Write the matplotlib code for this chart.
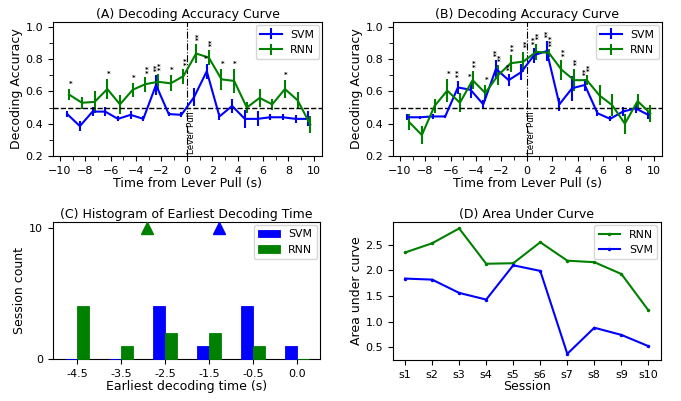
import matplotlib
matplotlib.use('Agg')
import matplotlib.pyplot as plt
from matplotlib.ticker import MultipleLocator
import numpy as np

# Time bins (s) relative to lever pull
times = [-9.35, -8.35, -7.35, -6.35, -5.35, -4.35, -3.35, -2.35, -1.35, -0.35,
         0.65, 1.65, 2.65, 3.65, 4.65, 5.65, 6.65, 7.65, 8.65, 9.65]

# (A) decoding accuracy
a_svm = [0.46, 0.385, 0.475, 0.475, 0.43, 0.455, 0.43, 0.64, 0.46, 0.455,
         0.565, 0.725, 0.445, 0.51, 0.43, 0.43, 0.44, 0.44, 0.43, 0.43]
a_svm_err = [0.02, 0.03, 0.03, 0.03, 0.015, 0.025, 0.015, 0.06, 0.015, 0.015,
             0.057, 0.046, 0.02, 0.046, 0.057, 0.046, 0.02, 0.02, 0.025, 0.046]
a_rnn = [0.58, 0.53, 0.535, 0.615, 0.52, 0.61, 0.645, 0.66, 0.65, 0.695,
         0.835, 0.81, 0.675, 0.665, 0.50, 0.56, 0.52, 0.615, 0.545, 0.395]
a_rnn_err = [0.036, 0.036, 0.07, 0.06, 0.057, 0.043, 0.046, 0.05, 0.05, 0.046,
             0.057, 0.046, 0.067, 0.077, 0.036, 0.057, 0.036, 0.057, 0.05, 0.05]
a_svm_stars = {7: 2, 11: 1}
a_rnn_stars = {0: 1, 3: 1, 5: 1, 6: 2, 7: 2, 8: 1, 9: 2, 10: 2, 11: 2, 12: 1, 13: 1, 17: 1}

# (B) decoding accuracy
b_svm = [0.44, 0.44, 0.445, 0.445, 0.625, 0.61, 0.52, 0.74, 0.67, 0.72,
         0.825, 0.85, 0.52, 0.62, 0.64, 0.465, 0.43, 0.475, 0.495, 0.455]
b_svm_err = [0.02, 0.01, 0.015, 0.01, 0.04, 0.048, 0.025, 0.054, 0.036, 0.05,
             0.046, 0.062, 0.04, 0.077, 0.036, 0.02, 0.015, 0.026, 0.03, 0.026]
b_rnn = [0.41, 0.33, 0.51, 0.605, 0.53, 0.67, 0.59, 0.70, 0.775, 0.785,
         0.845, 0.84, 0.735, 0.67, 0.67, 0.575, 0.515, 0.40, 0.54, 0.465]
b_rnn_err = [0.05, 0.057, 0.046, 0.072, 0.06, 0.057, 0.052, 0.062, 0.052, 0.062,
             0.052, 0.026, 0.062, 0.067, 0.03, 0.062, 0.067, 0.062, 0.046, 0.052]
b_svm_stars = {4: 2, 5: 1, 7: 2, 8: 2, 10: 2, 11: 2, 14: 2}
b_rnn_stars = {3: 1, 5: 2, 6: 1, 7: 2, 8: 2, 9: 2, 10: 2, 11: 3, 12: 2, 13: 2, 14: 2}

# (C) histogram of earliest decoding time
hist_labels = ['-4.5', '-3.5', '-2.5', '-1.5', '-0.5', '0.0']
hist_times = [-4.5, -3.5, -2.5, -1.5, -0.5, 0.0]
hist_svm = [0, 0, 4, 1, 4, 1]
hist_rnn = [4, 1, 2, 2, 1, 0]

# (D) area under curve
sessions = ['s1', 's2', 's3', 's4', 's5', 's6', 's7', 's8', 's9', 's10']
auc_rnn = [2.35, 2.53, 2.82, 2.13, 2.14, 2.55, 2.19, 2.16, 1.93, 1.22]
auc_svm = [1.84, 1.82, 1.56, 1.43, 2.10, 1.99, 0.37, 0.88, 0.74, 0.52]

TICK_FS = 8
LABEL_FS = 9
LEG_FS = 7.8


def draw_stars(ax, xs, ys, errs, stars, shift):
    for i, n in stars.items():
        ax.text(xs[i] + shift, ys[i] + errs[i] + 0.03, '\n'.join(['*'] * n),
                fontsize=5, fontweight='bold', ha='center', va='center',
                linespacing=0.5)


def plot_accuracy(ax, title, svm, svm_err, rnn, rnn_err, svm_stars, rnn_stars):
    t = np.array(times)
    x_svm = t - 0.08
    x_rnn = t + 0.08
    ax.errorbar(x_svm, svm, yerr=svm_err, color='blue', lw=1.5, elinewidth=1.5, label='SVM')
    ax.errorbar(x_rnn, rnn, yerr=rnn_err, color='green', lw=1.5, elinewidth=1.5, label='RNN')
    draw_stars(ax, x_svm, svm, svm_err, svm_stars, -0.08)
    draw_stars(ax, x_rnn, rnn, rnn_err, rnn_stars, 0.08)
    ax.axhline(0.5, color='black', ls='--', lw=1)
    ax.axvline(0, color='black', ls='-.', lw=0.8)
    ax.text(0.05, 0.212, 'Lever Pull', rotation=90, fontsize=6.3, ha='left', va='bottom')
    ax.set_xlim(-10.55, 10.65)
    ax.set_ylim(0.2, 1.03)
    ax.xaxis.set_major_locator(MultipleLocator(2))
    ax.xaxis.set_minor_locator(MultipleLocator(1))
    ax.yaxis.set_major_locator(MultipleLocator(0.2))
    ax.yaxis.set_minor_locator(MultipleLocator(0.1))
    ax.tick_params(which='minor', length=3)
    ax.tick_params(labelsize=TICK_FS)
    ax.set_title(title, fontsize=LABEL_FS, pad=3)
    ax.set_xlabel('Time from Lever Pull (s)', fontsize=LABEL_FS, labelpad=1)
    ax.set_ylabel('Decoding Accuracy', fontsize=LABEL_FS, labelpad=2)
    ax.legend(loc='upper right', fontsize=LEG_FS, borderaxespad=0.3)


fig = plt.figure(figsize=(6.81, 4.01), dpi=100)

ax_a = fig.add_axes([0.0778, 0.611, 0.395, 0.334])
ax_b = fig.add_axes([0.577, 0.611, 0.395, 0.334])
ax_c = fig.add_axes([0.0778, 0.105, 0.392, 0.342])
ax_d = fig.add_axes([0.577, 0.102, 0.393, 0.344])

plot_accuracy(ax_a, '(A) Decoding Accuracy Curve', a_svm, a_svm_err, a_rnn, a_rnn_err,
              a_svm_stars, a_rnn_stars)
plot_accuracy(ax_b, '(B) Decoding Accuracy Curve', b_svm, b_svm_err, b_rnn, b_rnn_err,
              b_svm_stars, b_rnn_stars)

# (C) histogram
idx = np.arange(len(hist_labels))
w = 0.27
ax_c.bar(idx - w / 2, hist_svm, w, color='blue', edgecolor='blue', lw=0.6,
         label='SVM', zorder=3, clip_on=False)
ax_c.bar(idx + w / 2, hist_rnn, w, color='green', edgecolor='green', lw=0.6,
         label='RNN', zorder=3, clip_on=False)
mean_svm = np.dot(hist_times, hist_svm) / np.sum(hist_svm)
mean_rnn = np.dot(hist_times, hist_rnn) / np.sum(hist_rnn)
# triangles mark mean earliest time on the category axis
ax_c.plot(mean_rnn + 4.5 + 0.08, 10, marker='^', color='green', ms=9, clip_on=False, zorder=5)
ax_c.plot(mean_svm + 4.5 + 0.08, 10, marker='^', color='blue', ms=9, clip_on=False, zorder=5)
ax_c.set_xticks(idx)
ax_c.set_xticklabels(hist_labels)
ax_c.set_yticks([0, 10])
ax_c.set_xlim(-0.55, 5.52)
ax_c.set_ylim(0, 10.45)
ax_c.tick_params(labelsize=TICK_FS)
ax_c.set_title('(C) Histogram of Earliest Decoding Time', fontsize=LABEL_FS, pad=3)
ax_c.set_xlabel('Earliest decoding time (s)', fontsize=LABEL_FS, labelpad=1)
ax_c.set_ylabel('Session count', fontsize=LABEL_FS, labelpad=2)
ax_c.legend(loc='upper right', fontsize=LEG_FS, borderaxespad=0.3)

# (D) area under curve
ax_d.plot(sessions, auc_rnn, color='green', marker='.', ms=3, lw=1.5, label='RNN')
ax_d.plot(sessions, auc_svm, color='blue', marker='.', ms=3, lw=1.5, label='SVM')
ax_d.set_yticks([0.5, 1.0, 1.5, 2.0, 2.5])
ax_d.tick_params(labelsize=TICK_FS)
ax_d.set_title('(D) Area Under Curve', fontsize=LABEL_FS, pad=3)
ax_d.set_xlabel('Session', fontsize=LABEL_FS, labelpad=0)
ax_d.set_ylabel('Area under curve', fontsize=LABEL_FS, labelpad=2)
ax_d.legend(loc='upper right', fontsize=LEG_FS, borderaxespad=0.3)

fig.savefig('out.png', dpi=100)
